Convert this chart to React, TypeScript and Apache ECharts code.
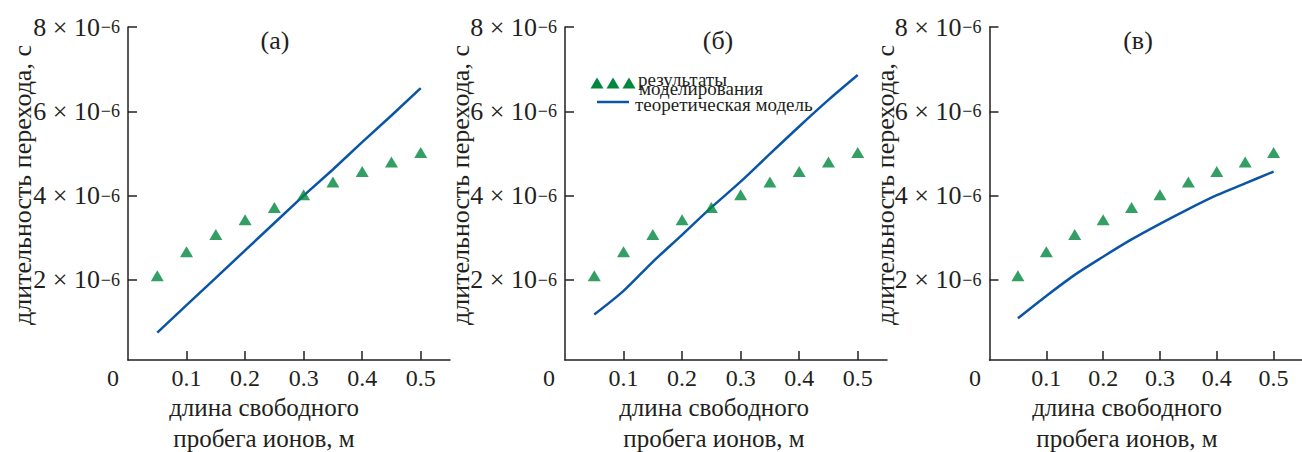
import React, { useEffect, useRef } from "react";
import * as echarts from "echarts";

// ---- data (x in metres, y in seconds) ----
const X_VALUES = [0.05, 0.1, 0.15, 0.2, 0.25, 0.3, 0.35, 0.4, 0.45, 0.5];
const SIMULATION = [2.1e-6, 2.67e-6, 3.08e-6, 3.43e-6, 3.72e-6, 4.02e-6, 4.32e-6, 4.57e-6, 4.8e-6, 5.02e-6];
const THEORY_A = [0.75e-6, 1.4e-6, 2.05e-6, 2.7e-6, 3.35e-6, 4.0e-6, 4.62e-6, 5.27e-6, 5.9e-6, 6.55e-6];
const THEORY_B = [1.18e-6, 1.74e-6, 2.43e-6, 3.07e-6, 3.72e-6, 4.33e-6, 4.99e-6, 5.64e-6, 6.27e-6, 6.86e-6];
const THEORY_C = [1.09e-6, 1.62e-6, 2.12e-6, 2.55e-6, 2.96e-6, 3.33e-6, 3.68e-6, 4.01e-6, 4.29e-6, 4.57e-6];
const X_TICKS = [0.1, 0.2, 0.3, 0.4, 0.5];
const Y_TICKS = [2e-6, 4e-6, 6e-6, 8e-6];
const Y_EXPONENT = "−6";
const PANEL_TITLES = ["(а)", "(б)", "(в)"];
const Y_TITLE = "длительность перехода, с";
const X_TITLE = "длина свободного\nпробега ионов, м";
const LEGEND_SIM = ["результаты", "моделирования"];
const LEGEND_THEORY = "теоретическая модель";

const FONT = '"Liberation Serif", "Times New Roman", serif';
const INK = "#231f20";
const GREEN = "#00873d";
const BLUE = "#0a55a5";

const GRID_LEFT = [128, 565, 989.5];
const GRID_TOP = 27;
const GRID_H = 333;
const GRID_W = 322;
const TITLE_X = [275, 718, 1138];
const XTITLE_X = [264, 714, 1127];
const YTITLE_X = [22, 460, 885];
const ZERO_X = [113, 549, 975];

export default function App() {
  const ref = useRef<HTMLDivElement>(null);
  useEffect(() => {
    if (!ref.current) return;
    const chart = echarts.init(ref.current, null, { renderer: "svg" });
    const theories = [THEORY_A, THEORY_B, THEORY_C];
    const grids = GRID_LEFT.map((l) => ({ left: l, top: GRID_TOP, width: GRID_W, height: GRID_H }));
    const xAxes = GRID_LEFT.map((_, i) => ({
      type: "value",
      gridIndex: i,
      min: 0,
      max: 0.55,
      axisLine: { show: true, onZero: false, lineStyle: { color: INK, width: 1.5 } },
      axisTick: { show: true, inside: true, length: 9, customValues: X_TICKS, lineStyle: { color: INK, width: 1.5 } },
      axisLabel: {
        customValues: X_TICKS,
        formatter: (v: number) => v.toFixed(1),
        fontFamily: FONT,
        fontSize: 24,
        color: INK,
        margin: 6,
      },
      splitLine: { show: false },
    }));
    const yAxes: any[] = [];
    GRID_LEFT.forEach((_, i) => {
      // mantissa labels "N × 10"
      yAxes.push({
        type: "value",
        gridIndex: i,
        min: 1e-7,
        max: 8e-6,
        axisLine: { show: true, onZero: false, lineStyle: { color: INK, width: 1.5 } },
        axisTick: { show: true, inside: true, length: 9, customValues: Y_TICKS, lineStyle: { color: INK, width: 1.5 } },
        axisLabel: {
          customValues: Y_TICKS,
          formatter: (v: number) => `${Math.round(v * 1e6)} × 10`,
          margin: 28,
          fontFamily: FONT,
          fontSize: 26,
          color: INK,
        },
        splitLine: { show: false },
      });
      // exponent labels (superscript)
      yAxes.push({
        type: "value",
        gridIndex: i,
        position: "left",
        min: 1e-7,
        max: 8e-6,
        axisLine: { show: false },
        axisTick: { show: false },
        axisLabel: {
          customValues: Y_TICKS,
          formatter: () => Y_EXPONENT,
          margin: 8,
          fontFamily: FONT,
          fontSize: 18,
          color: INK,
          padding: [0, 0, 15, 0],
        },
        splitLine: { show: false },
      });
    });
    const series: any[] = [];
    GRID_LEFT.forEach((_, i) => {
      series.push({
        type: "line",
        xAxisIndex: i,
        yAxisIndex: 2 * i,
        data: X_VALUES.map((x, k) => [x, theories[i][k]]),
        showSymbol: false,
        smooth: i === 0 ? false : 0.3,
        lineStyle: { color: BLUE, width: 2.5 },
        z: 2,
      });
      series.push({
        type: "scatter",
        xAxisIndex: i,
        yAxisIndex: 2 * i,
        data: X_VALUES.map((x, k) => [x, SIMULATION[k]]),
        symbol: "triangle",
        symbolSize: [13, 11],
        itemStyle: { color: GREEN },
        z: 3,
      });
    });
    const textStyle = (text: string, size: number, extra: any = {}) => ({
      text,
      fontFamily: FONT,
      fontSize: size,
      fill: INK,
      ...extra,
    });
    const graphic: any[] = [];
    GRID_LEFT.forEach((_, i) => {
      graphic.push({
        type: "text",
        x: TITLE_X[i],
        y: 40,
        style: textStyle(PANEL_TITLES[i], 26, { align: "center", verticalAlign: "middle" }),
      });
      graphic.push({
        type: "text",
        x: ZERO_X[i],
        y: 378,
        style: textStyle("0", 24, { align: "center", verticalAlign: "middle" }),
      });
      graphic.push({
        type: "text",
        x: XTITLE_X[i],
        y: 423,
        style: textStyle(X_TITLE, 25, { align: "center", verticalAlign: "middle", lineHeight: 31 }),
      });
      graphic.push({
        type: "text",
        x: YTITLE_X[i],
        y: 185,
        rotation: Math.PI / 2,
        style: textStyle(Y_TITLE, 26, { align: "center", verticalAlign: "middle" }),
      });
    });
    // legend in panel (б)
    [597, 613, 629].forEach((cx) => {
      graphic.push({
        type: "polygon",
        shape: { points: [[cx, 77.5], [cx + 6.5, 88.5], [cx - 6.5, 88.5]] },
        style: { fill: GREEN },
      });
    });
    graphic.push({
      type: "line",
      shape: { x1: 597, y1: 102, x2: 629, y2: 102 },
      style: { stroke: BLUE, lineWidth: 2.5 },
    });
    graphic.push({ type: "text", x: 638, y: 79, style: textStyle(LEGEND_SIM[0], 19, { align: "left", verticalAlign: "middle" }) });
    graphic.push({ type: "text", x: 639, y: 88, style: textStyle(LEGEND_SIM[1], 19, { align: "left", verticalAlign: "middle" }) });
    graphic.push({ type: "text", x: 635, y: 104, style: textStyle(LEGEND_THEORY, 19, { align: "left", verticalAlign: "middle" }) });

    chart.setOption({
      animation: false,
      backgroundColor: "#ffffff",
      grid: grids,
      xAxis: xAxes,
      yAxis: yAxes,
      series,
      graphic,
    });
    return () => chart.dispose();
  }, []);
  return <div ref={ref} style={{ position: "absolute", left: 0, top: 0, width: 1302, height: 452 }} />;
}
